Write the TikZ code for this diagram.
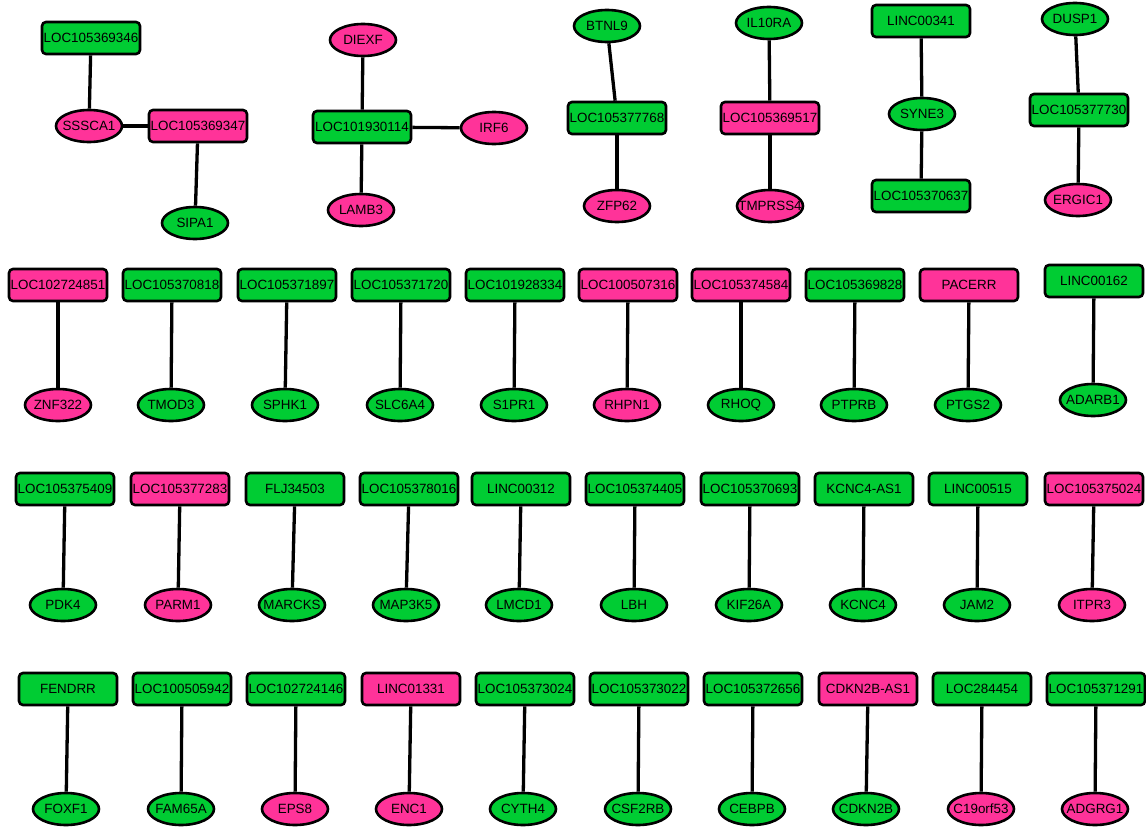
\documentclass[tikz,border=0pt]{standalone}
\usepackage{fontspec}
\setmainfont{Liberation Sans}
\usetikzlibrary{shapes.geometric}
\definecolor{gfill}{RGB}{0,204,51}
\definecolor{pfill}{RGB}{255,51,153}
\newcommand\zw[1]{\makebox[0pt][c]{#1}}
\tikzset{
  base/.style={draw=black, line width=2.6pt, inner sep=0pt, font=\fontsize{13.4}{13.4}\selectfont, text=black},
  gbox/.style={base, rectangle, rounded corners=4pt, minimum width=98pt, minimum height=32pt, fill=gfill},
  pbox/.style={base, rectangle, rounded corners=4pt, minimum width=98pt, minimum height=32pt, fill=pfill},
  gell/.style={base, ellipse, minimum width=66pt, minimum height=32pt, fill=gfill},
  pell/.style={base, ellipse, minimum width=66pt, minimum height=32pt, fill=pfill},
  edge/.style={draw=black, line width=3.3pt}
}
\begin{document}
\begin{tikzpicture}[x=1pt,y=-1pt]
\useasboundingbox (0,0) rectangle (1146,835);
% ---- cluster row 1
\node[gbox] (a1) at (91,38) {\zw{LOC105369346}};
\node[pell] (a2) at (89,126) {\zw{SSSCA1}};
\node[pbox] (a3) at (198,126) {\zw{LOC105369347}};
\node[gell] (a4) at (195,223) {\zw{SIPA1}};
\node[pell] (b1) at (363,40) {\zw{DIEXF}};
\node[gbox] (b2) at (362,127) {\zw{LOC101930114}};
\node[pell] (b3) at (361,210) {\zw{LAMB3}};
\node[pell] (b4) at (494,128) {\zw{IRF6}};
\node[gell] (c1) at (607,26) {\zw{BTNL9}};
\node[gbox] (c2) at (617,118) {\zw{LOC105377768}};
\node[pell] (c3) at (617,206) {\zw{ZFP62}};
\node[gell] (d1) at (769,23) {\zw{IL10RA}};
\node[pbox] (d2) at (770,118) {\zw{LOC105369517}};
\node[pell] (d3) at (770,206) {\zw{TMPRSS4}};
\node[gbox] (e1) at (921,21) {\zw{LINC00341}};
\node[gell] (e2) at (922,114) {\zw{SYNE3}};
\node[gbox] (e3) at (921,196) {\zw{LOC105370637}};
\node[gell] (f1) at (1075,19) {\zw{DUSP1}};
\node[gbox] (f2) at (1079,110) {\zw{LOC105377730}};
\node[pell] (f3) at (1078,200) {\zw{ERGIC1}};
\draw[edge] (a1) -- (a2);
\draw[edge] (a2) -- (a3);
\draw[edge] (a3) -- (a4);
\draw[edge] (b1) -- (b2);
\draw[edge] (b2) -- (b3);
\draw[edge] (b2) -- (b4);
\draw[edge] (c1) -- (c2);
\draw[edge] (c2) -- (c3);
\draw[edge] (d1) -- (d2);
\draw[edge] (d2) -- (d3);
\draw[edge] (e1) -- (e2);
\draw[edge] (e2) -- (e3);
\draw[edge] (f1) -- (f2);
\draw[edge] (f2) -- (f3);
% ---- pairs
\foreach \n/\tx/\ty/\tc/\tt/\bx/\by/\bc/\bt in {
 r1/58/285/pbox/LOC102724851/58/405/pell/ZNF322,
 r2/172/285/gbox/LOC105370818/171/405/gell/TMOD3,
 r3/287/285/gbox/LOC105371897/285/405/gell/SPHK1,
 r4/401/285/gbox/LOC105371720/400/405/gell/SLC6A4,
 r5/515/285/gbox/LOC101928334/514/405/gell/S1PR1,
 r6/628/285/pbox/LOC100507316/627/405/pell/RHPN1,
 r7/741/285/pbox/LOC105374584/741/405/gell/RHOQ,
 r8/855/285/gbox/LOC105369828/854/405/gell/PTPRB,
 r9/969/285/pbox/PACERR/968/405/gell/PTGS2,
 r10/1094/281/gbox/LINC00162/1093/400/gell/ADARB1,
 s1/65/489/gbox/LOC105375409/63/605/gell/PDK4,
 s2/180/489/pbox/LOC105377283/178/605/pell/PARM1,
 s3/295/489/gbox/FLJ34503/292/605/gell/MARCKS,
 s4/409/489/gbox/LOC105378016/406/605/gell/MAP3K5,
 s5/521/489/gbox/LINC00312/519/605/gell/LMCD1,
 s6/635/489/gbox/LOC105374405/634/605/gell/LBH,
 s7/750/489/gbox/LOC105370693/749/605/gell/KIF26A,
 s8/864/489/gbox/KCNC4-AS1/863/605/gell/KCNC4,
 s9/978/489/gbox/LINC00515/977/605/gell/JAM2,
 s10/1094/489/pbox/LOC105375024/1092/605/pell/ITPR3,
 t1/68/689/gbox/FENDRR/66/809/gell/FOXF1,
 t2/182/689/gbox/LOC100505942/181/809/gell/FAM65A,
 t3/296/689/gbox/LOC102724146/295/809/pell/EPS8,
 t4/411/689/pbox/LINC01331/409/809/pell/ENC1,
 t5/525/689/gbox/LOC105373024/523/809/gell/CYTH4,
 t6/639/689/gbox/LOC105373022/638/809/gell/CSF2RB,
 t7/753/689/gbox/LOC105372656/752/809/gell/CEBPB,
 t8/868/689/pbox/CDKN2B-AS1/866/809/gell/CDKN2B,
 t9/982/689/gbox/LOC284454/981/809/pell/C19orf53,
 t10/1096/689/gbox/LOC105371291/1095/809/pell/ADGRG1}
{
 \node[\tc] (\n top) at (\tx,\ty) {\zw{\tt}};
 \node[\bc] (\n bot) at (\bx,\by) {\zw{\bt}};
 \draw[edge] (\n top) -- (\n bot);
}
\end{tikzpicture}
\end{document}
